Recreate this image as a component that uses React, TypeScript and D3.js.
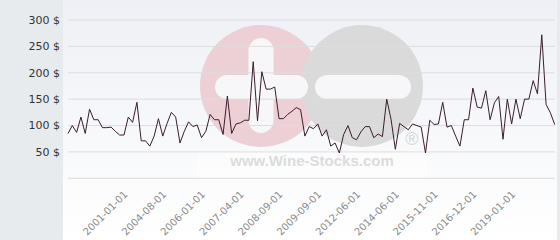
import React from "react";
import * as d3 from "d3";

const prices: number[] = [
  85, 100, 87, 116, 85, 131, 111, 111, 96, 96, 97, 89, 82, 82, 116, 106, 144, 71, 71, 61,
  80, 113, 80, 104, 125, 116, 67, 89, 107, 98, 101, 77, 89, 121, 111, 111, 83, 156, 85, 103,
  105, 110, 110, 221, 109, 202, 169, 169, 173, 113, 113, 121, 127, 134, 130, 80, 98, 94, 103, 80,
  92, 61, 67, 48, 83, 100, 77, 73, 88, 98, 98, 77, 84, 79, 150, 112, 55, 104, 98, 92,
  103, 100, 97, 48, 110, 102, 103, 144, 97, 100, 80, 61, 111, 111, 171, 135, 133, 166, 111, 143,
  155, 74, 150, 103, 150, 113, 150, 150, 185, 160, 272, 140, 124, 102,
];

const tickLabels: string[] = [
  "2001-01-01", "2004-08-01", "2006-01-01", "2007-04-01", "2008-09-01", "2009-09-01",
  "2012-06-01", "2014-06-01", "2015-11-01", "2016-12-01", "2019-01-01",
];
const firstLabelIndex = 14;
const labelStep = 9;

const yTicks: number[] = [50, 100, 150, 200, 250, 300];
const yGrid: number[] = [0, 50, 100, 150, 200, 250, 300];

export default function App() {
  const W = 560, H = 240;
  const x = d3.scaleLinear().domain([0, prices.length - 1]).range([68, 554.7]);
  const y = d3.scaleLinear().domain([0, 300]).range([178.3, 20]);
  const line = d3.line<number>().x((_, i) => x(i)).y((d) => y(d));

  return (
    <svg width={W} height={H} style={{ position: "fixed", left: 0, top: 0 }} xmlns="http://www.w3.org/2000/svg">
      <defs>
        <linearGradient id="bg" x1="0" y1="0" x2="0" y2="1">
          <stop offset="0" stopColor="#eef0f5" />
          <stop offset="1" stopColor="#ffffff" />
        </linearGradient>
      </defs>
      <rect x={0} y={0} width={W} height={H} fill="url(#bg)" />
      <rect x={0} y={0} width={63} height={H} fill="#e7ebee" />
      <rect x={557} y={0} width={3} height={H} fill="#e7ebee" />

      {/* watermark */}
      <g>
        <circle cx={261} cy={86} r={61} fill="#ecd0d6" />
        <circle cx={362} cy={86} r={61} fill="#dadada" />
        <rect x={215} y={75} width={93} height={24} rx={12} fill="#f7f7f9" />
        <rect x={315} y={75} width={96} height={24} rx={12} fill="#f7f7f9" />
        <rect x={248.5} y={38} width={25} height={95} rx={12.5} fill="#f7f7f9" />
        <rect x={197} y={151} width={230} height={27} fill="#ffffff" opacity={0.45} />
        <text x={312} y={166} textAnchor="middle" fontFamily="Liberation Sans, Arial, sans-serif" fontWeight="bold" fontSize={15} fill="#dcdcdc">
          www.Wine-Stocks.com
        </text>
        <text x={412} y={145} textAnchor="middle" fontFamily="Liberation Sans, Arial, sans-serif" fontSize={18} fill="#d8d8d8">
          ®
        </text>
      </g>

      {yGrid.map((v) => (
        <line key={v} x1={68} x2={555} y1={y(v)} y2={y(v)} stroke="#dddddd" strokeWidth={1} />
      ))}
      {yTicks.map((v) => (
        <text key={v} x={60} y={y(v)} dy="0.35em" textAnchor="end" fontFamily="DejaVu Sans, sans-serif" fontSize={11} fill="#333333">
          {v} $
        </text>
      ))}

      {tickLabels.map((t, k) => {
        const xi = x(firstLabelIndex + k * labelStep);
        return (
          <text key={t} transform={`translate(${xi},195) rotate(-45)`} textAnchor="end" fontFamily="DejaVu Sans, sans-serif" fontSize={10} fill="#8a8a8a">
            {t}
          </text>
        );
      })}

      <path d={line(prices) || ""} fill="none" stroke="#3a1d2b" strokeWidth={1} strokeLinejoin="miter" />
    </svg>
  );
}
